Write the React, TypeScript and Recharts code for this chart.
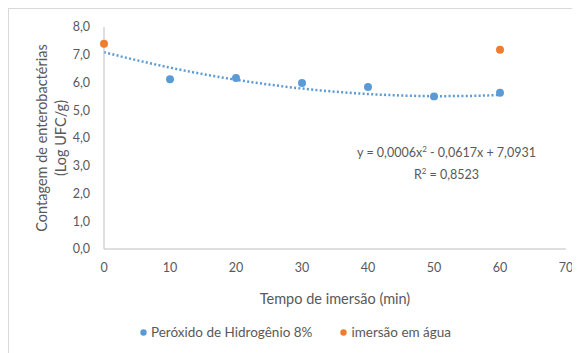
import React from 'react';
import { ComposedChart, Scatter, Line, XAxis, YAxis, ZAxis, Legend } from 'recharts';

const peroxidoX = [10, 20, 30, 40, 50, 60];
const peroxidoY = [6.12, 6.16, 5.98, 5.84, 5.5, 5.63];
const aguaX = [0, 60];
const aguaY = [7.4, 7.18];
const trendX = [0, 5, 10, 15, 20, 25, 30, 35, 40, 45, 50, 55, 60];
const trendY = [7.093, 6.8, 6.536, 6.303, 6.099, 5.926, 5.782, 5.669, 5.585, 5.532, 5.508, 5.515, 5.551];
const xTicks = [0, 10, 20, 30, 40, 50, 60, 70];
const yTicks = [0, 1, 2, 3, 4, 5, 6, 7, 8];

const peroxidoData = peroxidoX.map((x, i) => ({ x, y: peroxidoY[i] }));
const aguaData = aguaX.map((x, i) => ({ x, y: aguaY[i] }));
const trendData = trendX.map((x, i) => ({ x, y: trendY[i] }));

const FONT = 'Lato, "Open Sans", sans-serif';
const TEXT = '#595959';
const AXIS = '#BFBFBF';
const BLUE = '#5B9BD5';
const ORANGE = '#ED7D31';

const fmt = (v: number) => v.toFixed(1).replace('.', ',');

const YLabel = (props: any) => {
  const { viewBox } = props;
  const cy = viewBox.y + viewBox.height / 2;
  return (
    <g>
      <text x={32} y={cy} transform={`rotate(-90, 32, ${cy})`} textAnchor="middle" dominantBaseline="central" fill={TEXT} fontSize={14.5} fontFamily={FONT}>
        Contagem de enterobactérias
      </text>
      <text x={51} y={cy} transform={`rotate(-90, 51, ${cy})`} textAnchor="middle" dominantBaseline="central" fill={TEXT} fontSize={14.5} fontFamily={FONT}>
        (Log UFC/g)
      </text>
    </g>
  );
};

const LegendContent = (props: any) => {
  const items = (props.payload || []).filter((p: any) => p.type !== 'none');
  return (
    <div style={{ display: 'flex', justifyContent: 'center', alignItems: 'center', fontFamily: FONT, fontSize: 13.5, color: TEXT, paddingLeft: 16 }}>
      {items.map((it: any, i: number) => (
        <div key={i} style={{ display: 'flex', alignItems: 'center', marginRight: i === 0 ? 28 : 0 }}>
          <svg width={7} height={7} style={{ marginRight: 4 }}>
            <circle cx={3.5} cy={3.5} r={3.2} fill={it.color} />
          </svg>
          <span>{it.value}</span>
        </div>
      ))}
    </div>
  );
};

export default function App() {
  return (
    <div style={{ position: 'relative', width: 572, height: 345, borderTop: '1px solid #D9D9D9', borderLeft: '1px solid #D9D9D9', background: '#fff', fontFamily: FONT }}>
      <ComposedChart width={572} height={345} margin={{ top: 18, right: 15, bottom: 23, left: 0 }}>
        <XAxis
          type="number"
          dataKey="x"
          domain={[0, 70]}
          ticks={xTicks}
          tickLine={false}
          tickSize={0}
          tickMargin={14}
          axisLine={{ stroke: AXIS }}
          tick={{ fill: TEXT, fontSize: 12.5, fontFamily: FONT }}
          height={58}
          label={{ value: 'Tempo de imersão  (min)', position: 'insideBottom', offset: 3, fill: TEXT, fontSize: 14.5, fontFamily: FONT }}
        />
        <YAxis
          type="number"
          dataKey="y"
          domain={[0, 8]}
          ticks={yTicks}
          tickFormatter={fmt}
          tickLine={false}
          tickSize={0}
          tickMargin={14}
          axisLine={{ stroke: AXIS }}
          tick={{ fill: TEXT, fontSize: 12.5, fontFamily: FONT }}
          width={95}
          label={<YLabel />}
        />
        <ZAxis range={[50, 50]} />
        <Legend
          verticalAlign="bottom"
          height={24}
          content={<LegendContent />}
          wrapperStyle={{ bottom: 6 }}
        />
        <Line
          data={trendData}
          dataKey="y"
          type="monotone"
          stroke={BLUE}
          strokeWidth={2.5}
          strokeDasharray="2 2.3"
          dot={false}
          activeDot={false}
          legendType="none"
          isAnimationActive={false}
        />
        <Scatter name="Peróxido de Hidrogênio 8%" data={peroxidoData} fill={BLUE} shape="circle" isAnimationActive={false} />
        <Scatter name="imersão em água" data={aguaData} fill={ORANGE} shape="circle" isAnimationActive={false} />
      </ComposedChart>
      <div style={{ position: 'absolute', left: 330, top: 131, width: 215, textAlign: 'center', color: TEXT, fontSize: 12.5, lineHeight: '18px', fontFamily: FONT, whiteSpace: 'nowrap' }}>
        <div>y = 0,0006x<sup style={{ fontSize: 8 }}>2</sup> - 0,0617x + 7,0931</div>
        <div>R<sup style={{ fontSize: 8 }}>2</sup> = 0,8523</div>
      </div>
    </div>
  );
}
